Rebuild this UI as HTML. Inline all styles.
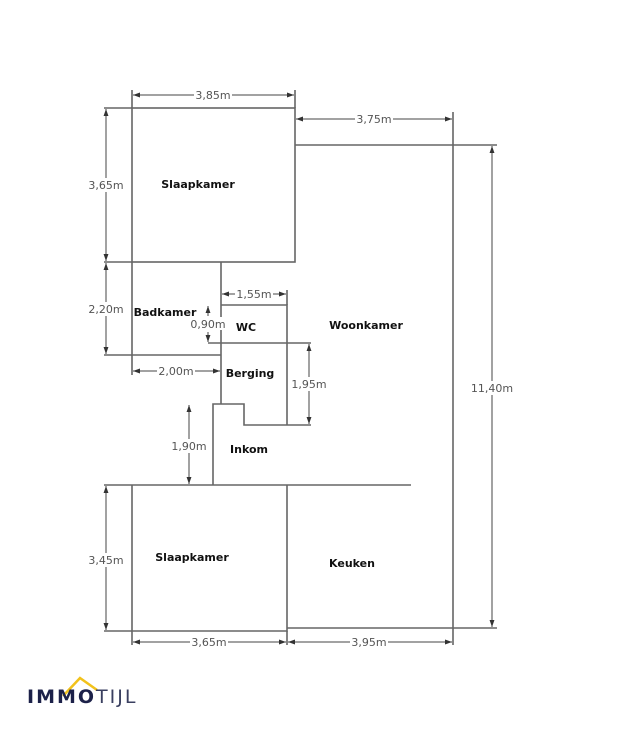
<!DOCTYPE html>
<html><head><meta charset="utf-8"><style>
html,body{margin:0;padding:0;background:#fff;width:639px;height:736px;overflow:hidden}
</style></head><body>
<svg width="639" height="736" viewBox="0 0 639 736" xmlns="http://www.w3.org/2000/svg">
<defs>
<marker id="a" viewBox="0 0 10 10" refX="10" refY="5" markerWidth="7" markerHeight="7" orient="auto-start-reverse"><path d="M0,1.5 L10,5 L0,8.5 z" fill="#333"/></marker>
</defs>
<g stroke="#666" stroke-width="1.6" fill="none">
<rect x="132" y="108" width="163" height="154"/>
<polyline points="132,262 132,355 221,355"/>
<line x1="104" y1="262" x2="132" y2="262"/>
<line x1="104" y1="355" x2="132" y2="355"/>
<line x1="104" y1="108" x2="132" y2="108"/>
<line x1="221" y1="262" x2="221" y2="404"/>
<polyline points="221,305 287,305 287,425"/>
<line x1="208" y1="343" x2="311" y2="343"/>
<polyline points="213,485 213,404 244,404 244,425 311,425"/>
<polyline points="295,145 453,145 453,628 287,628"/>
<line x1="453" y1="145" x2="497" y2="145"/>
<line x1="453" y1="628" x2="497" y2="628"/>
<line x1="104" y1="485" x2="411" y2="485"/>
<polyline points="132,485 132,631 287,631 287,485"/>
<line x1="104" y1="631" x2="132" y2="631"/>
<line x1="132" y1="631" x2="132" y2="645"/>
<line x1="287" y1="631" x2="287" y2="645"/>
<line x1="453" y1="628" x2="453" y2="645"/>
<line x1="132" y1="90" x2="132" y2="108"/>
<line x1="295" y1="90" x2="295" y2="108"/>
<line x1="453" y1="112" x2="453" y2="145"/>
<line x1="132" y1="355" x2="132" y2="375"/>
<line x1="287" y1="290" x2="287" y2="305"/>
</g>
<g stroke="#444" stroke-width="1" marker-start="url(#a)" marker-end="url(#a)">
<line x1="133" y1="95" x2="294" y2="95"/>
<line x1="296" y1="119" x2="452" y2="119"/>
<line x1="106" y1="109" x2="106" y2="261"/>
<line x1="106" y1="263" x2="106" y2="354"/>
<line x1="133" y1="371" x2="220" y2="371"/>
<line x1="222" y1="294" x2="286" y2="294"/>
<line x1="309" y1="344" x2="309" y2="424"/>
<line x1="189" y1="405" x2="189" y2="484"/>
<line x1="106" y1="486" x2="106" y2="630"/>
<line x1="133" y1="642" x2="286" y2="642"/>
<line x1="288" y1="642" x2="452" y2="642"/>
<line x1="492" y1="146" x2="492" y2="627"/>
</g>
<g stroke="#444" stroke-width="1" marker-end="url(#a)">
<line x1="208" y1="316" x2="208" y2="306"/>
<line x1="208" y1="332" x2="208" y2="342"/>
</g>
<g font-family="'DejaVu Sans','Liberation Sans',sans-serif" font-size="11" fill="#555" text-anchor="middle">
<rect x="194" y="89" width="38" height="12" fill="#fff"/><text x="213" y="99">3,85m</text>
<rect x="355" y="113" width="38" height="12" fill="#fff"/><text x="374" y="123">3,75m</text>
<rect x="85" y="178" width="42" height="14" fill="#fff"/><text x="106" y="189">3,65m</text>
<rect x="85" y="302" width="42" height="14" fill="#fff"/><text x="106" y="313">2,20m</text>
<rect x="157" y="365" width="38" height="12" fill="#fff"/><text x="176" y="375">2,00m</text>
<rect x="235" y="288" width="38" height="12" fill="#fff"/><text x="254" y="298">1,55m</text>
<rect x="190" y="317" width="36" height="13" fill="#fff"/><text x="208" y="328">0,90m</text>
<rect x="289" y="377" width="42" height="14" fill="#fff"/><text x="309" y="388">1,95m</text>
<rect x="169" y="439" width="42" height="14" fill="#fff"/><text x="189" y="450">1,90m</text>
<rect x="85" y="553" width="42" height="14" fill="#fff"/><text x="106" y="564">3,45m</text>
<rect x="190" y="636" width="38" height="12" fill="#fff"/><text x="209" y="646">3,65m</text>
<rect x="350" y="636" width="38" height="12" fill="#fff"/><text x="369" y="646">3,95m</text>
<rect x="470" y="381" width="44" height="14" fill="#fff"/><text x="492" y="392">11,40m</text>
</g>
<g font-family="'DejaVu Sans','Liberation Sans',sans-serif" font-size="11" font-weight="bold" fill="#111" text-anchor="middle">
<text x="198" y="188">Slaapkamer</text>
<text x="165" y="316">Badkamer</text>
<text x="246" y="331">WC</text>
<text x="250" y="377">Berging</text>
<text x="366" y="329">Woonkamer</text>
<text x="249" y="453">Inkom</text>
<text x="192" y="561">Slaapkamer</text>
<text x="352" y="567">Keuken</text>
</g>
<polyline points="63,696 80,678 97,690" fill="none" stroke="#f2c21b" stroke-width="2.5"/>
<text x="27" y="703" font-family="'DejaVu Sans','Liberation Sans',sans-serif" font-size="19" font-weight="bold" fill="#1c2149" letter-spacing="2">IMMO<tspan font-weight="normal" fill="#3a3f60">TIJL</tspan></text>
</svg>
</body></html>
